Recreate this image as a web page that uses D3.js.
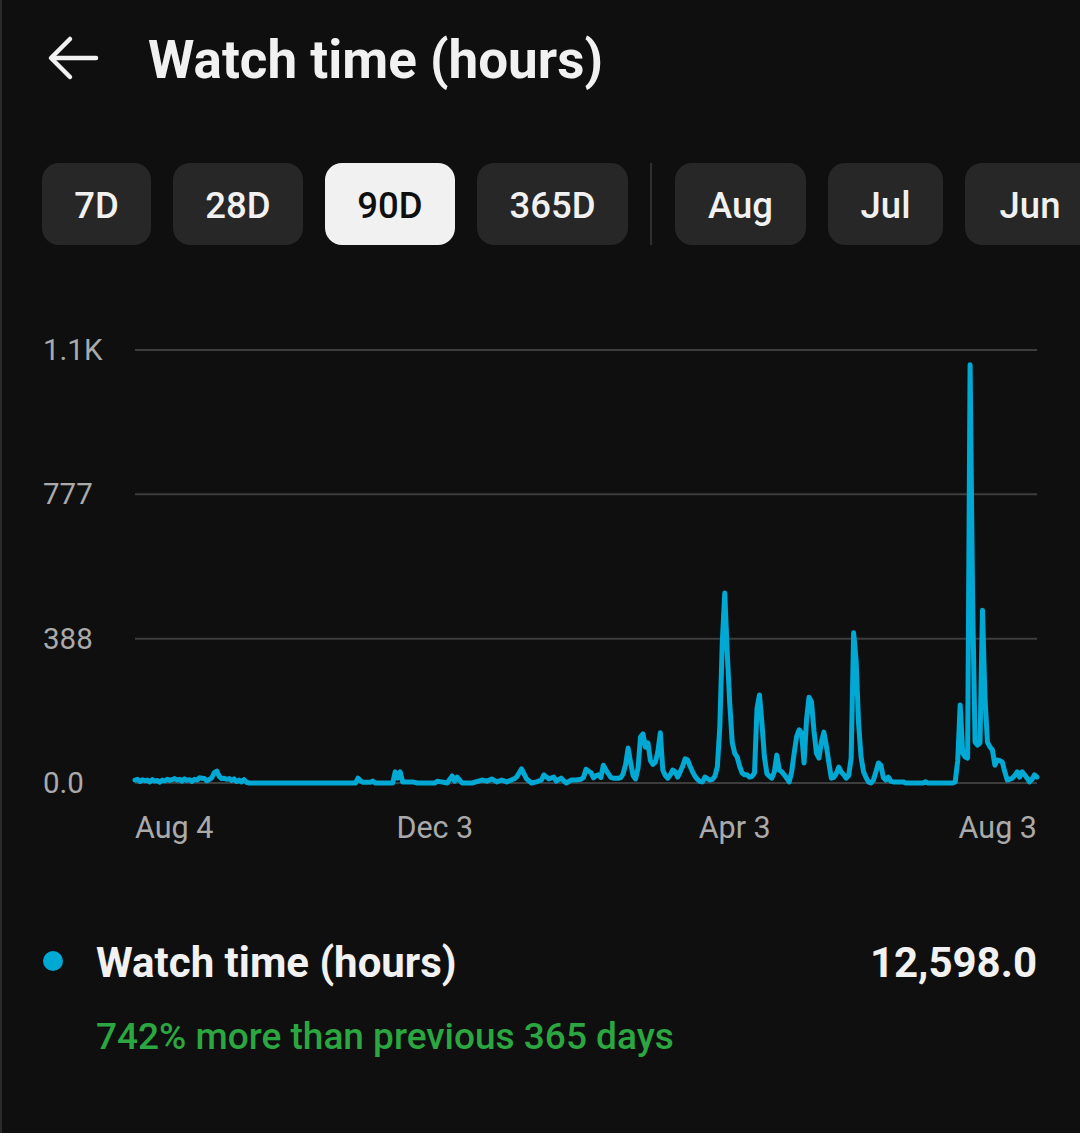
<!doctype html>
<html lang="en">
  <head>
    <meta charset="utf-8">
    <title>Watch time (hours)</title>
    <style>
      html, body{
        margin: 0;
        padding: 0;
        background: #0f0f0f;
        overflow: hidden;
      }
      svg text{
        font-family: Roboto, "Noto Sans", sans-serif;
      }
    </style>
  </head>
  <body>
    <svg id="chart" width="1080" height="1133"></svg>
    <script src="https://d3js.org/d3.v7.min.js"></script>
    <script>

      //period covered by the chart (365 days)
      var startDate = new Date(2022, 7, 4);
      var endDate = new Date(2023, 7, 3);

      //day offset from startDate, and watch hours on that day
      var dayOffsets = [
        0,1,2,3,4,5,6,7,8,9,10,11,12,13,14,15,16,17,18,19,20,21,22,23,24,25,26,27,28,29,
        30,31,32,33,34,35,36,37,38,39,40,41,42,43,44,45,46,
        89,90,91,92,95,96,97,99,104,105,106,107,108,112,114,121,122,126,128,129,130,132,
        136,140,142,144,146,148,150,153,154,156,158,160,162,164,165,167,169,170,172,174,176,178,180,
        181,182,183,184,185,186,187,188,189,190,191,192,193,194,195,196,197,198,199,200,
        201,202,203,204,205,206,207,208,209,210,211,212,213,214,215,216,217,218,219,220,
        221,222,223,224,225,226,227,228,229,230,231,232,233,234,235,236,237,238,239,240,
        241,242,243,244,245,246,247,248,249,250,251,252,253,254,255,256,257,258,259,260,
        261,262,263,264,265,266,267,268,269,270,271,272,273,274,275,276,277,278,279,280,
        281,282,283,284,285,286,287,288,289,290,291,292,293,294,295,296,297,298,299,300,
        301,302,303,304,305,306,310,311,318,319,320,330,331,332,333,334,335,336,337,338,339,340,
        341,342,343,344,345,346,347,348,349,350,351,352,353,354,355,356,357,358,359,360,
        361,362,363,364
      ];
      var watchHours = [
        8,10,4,9,6,8,3,9,5,7,2,8,6,10,7,9,12,8,10,5,11,7,9,4,10,8,14,13,12,6,
        10,14,28,32,18,12,13,10,12,7,11,4,8,3,9,2,0,
        0,13,6,2,2,5,0,0,0,30,13,30,3,3,0,0,5,0,19,5,16,0,
        0,8,5,11,3,8,3,11,16,38,11,0,3,8,22,11,16,5,13,0,8,8,10,
        15,37,32,28,14,20,22,15,48,35,25,15,13,13,13,14,25,50,94,55,
        20,11,40,124,132,96,108,60,50,56,85,135,35,20,13,22,35,30,16,30,
        45,65,62,45,30,18,10,4,3,16,12,8,10,18,43,150,380,511,350,215,
        110,80,70,45,27,22,22,16,18,27,200,237,161,70,25,18,13,30,75,35,
        30,22,13,3,30,80,125,143,135,54,170,231,218,140,80,67,110,137,100,55,
        13,15,25,43,30,22,13,20,67,404,330,160,70,30,15,3,0,8,30,54,
        48,15,8,16,5,3,3,0,0,3,0,0,3,60,210,81,70,67,1125,500,110,102,
        108,465,230,110,97,89,48,62,60,56,30,8,10,13,20,30,16,30,22,13,
        3,10,22,16
      ];

      //y axis ticks as shown in the app
      var yTicks = [0, 388.3, 776.7, 1165];
      var yTickLabels = ["0.0", "388", "777", "1.1K"];

      //x axis ticks
      var xTickDates = [new Date(2022, 7, 4), new Date(2022, 11, 3), new Date(2023, 3, 3), new Date(2023, 7, 3)];
      var xTickLabels = ["Aug 4", "Dec 3", "Apr 3", "Aug 3"];

      //period chips across the top
      var chipLabels = ["7D", "28D", "90D", "365D", "Aug", "Jul", "Jun"];
      var chipSelected = "90D";

      var lineColor = "#00a8d4";

      var svg = d3.select("#chart");

      //thin lighter edge on the left of the screen
      svg.append("rect")
        .attr("x", 0).attr("y", 0)
        .attr("width", 2).attr("height", 1133)
        .attr("fill", "#2a2a2a");

      //back arrow
      var arrow = svg.append("g")
        .attr("fill", "none")
        .attr("stroke", "#f1f1f1")
        .attr("stroke-width", 4.5)
        .attr("stroke-linecap", "round")
        .attr("stroke-linejoin", "round");
      arrow.append("path").attr("d", "M52,58 L96,58");
      arrow.append("path").attr("d", "M70,39 L51,58 L70,77");

      //title
      svg.append("text")
        .attr("x", 148)
        .attr("y", 78)
        .attr("fill", "#f1f1f1")
        .style("font-size", "53px")
        .style("font-weight", "700")
        .text("Watch time (hours)");

      //chips
      var chipX = [42, 173, 325, 477, 675, 828, 965];
      var chipW = [109, 130, 130, 151, 131, 115, 130];
      var chips = svg.selectAll("g.chip")
        .data(chipLabels)
        .enter()
        .append("g")
        .attr("class", "chip")
        .attr("transform", function(d, i){ return "translate(" + chipX[i] + ",163)"; });

      chips.append("rect")
        .attr("width", function(d, i){ return chipW[i]; })
        .attr("height", 82)
        .attr("rx", 17)
        .attr("fill", function(d){ return d === chipSelected ? "#f1f1f1" : "#272727"; });

      chips.append("text")
        .attr("x", function(d, i){ return chipW[i] / 2; })
        .attr("y", 55)
        .attr("text-anchor", "middle")
        .attr("fill", function(d){ return d === chipSelected ? "#0f0f0f" : "#f1f1f1"; })
        .style("font-size", "36.5px")
        .style("font-weight", "500")
        .text(function(d){ return d; });

      //divider between the period chips and month chips
      svg.append("rect")
        .attr("x", 650).attr("y", 163)
        .attr("width", 2).attr("height", 82)
        .attr("fill", "#303030");

      //chart area
      var plotLeft = 135, plotRight = 1037, plotTop = 350, plotBottom = 783;

      var x = d3.scaleTime()
        .domain([startDate, endDate])
        .range([plotLeft, plotRight]);

      var y = d3.scaleLinear()
        .domain([0, 1165])
        .range([plotBottom, plotTop]);

      //gridlines
      svg.selectAll("line.grid")
        .data(yTicks)
        .enter()
        .append("line")
        .attr("class", "grid")
        .attr("x1", plotLeft)
        .attr("x2", plotRight)
        .attr("y1", function(d){ return y(d); })
        .attr("y2", function(d){ return y(d); })
        .attr("stroke", "#3d3d3d")
        .attr("stroke-width", 2);

      //y labels
      svg.selectAll("text.ylab")
        .data(yTicks)
        .enter()
        .append("text")
        .attr("class", "ylab")
        .attr("x", 43)
        .attr("y", function(d){ return y(d) + 10; })
        .attr("fill", "#aaaaaa")
        .style("font-size", "29.5px")
        .text(function(d, i){ return yTickLabels[i]; });

      //x labels
      svg.selectAll("text.xlab")
        .data(xTickDates)
        .enter()
        .append("text")
        .attr("class", "xlab")
        .attr("x", function(d){ return x(d); })
        .attr("y", 838)
        .attr("text-anchor", function(d, i){
          if(i === 0) return "start";
          if(i === xTickDates.length - 1) return "end";
          return "middle";
        })
        .attr("fill", "#aaaaaa")
        .style("font-size", "30.5px")
        .text(function(d, i){ return xTickLabels[i]; });

      //series
      var points = dayOffsets.map(function(d, i){
        return {date: d3.timeDay.offset(startDate, d), value: watchHours[i]};
      });

      var line = d3.line()
        .x(function(d){ return x(d.date); })
        .y(function(d){ return y(d.value); });

      svg.append("path")
        .datum(points)
        .attr("d", line)
        .attr("fill", "none")
        .attr("stroke", lineColor)
        .attr("stroke-width", 5)
        .attr("stroke-linejoin", "round")
        .attr("stroke-linecap", "round");

      //legend / total
      svg.append("circle")
        .attr("cx", 53)
        .attr("cy", 961)
        .attr("r", 10)
        .attr("fill", lineColor);

      svg.append("text")
        .attr("x", 96)
        .attr("y", 977)
        .attr("fill", "#f1f1f1")
        .style("font-size", "42px")
        .style("font-weight", "700")
        .text("Watch time (hours)");

      svg.append("text")
        .attr("x", 1037)
        .attr("y", 977)
        .attr("text-anchor", "end")
        .attr("fill", "#f1f1f1")
        .style("font-size", "42px")
        .style("font-weight", "700")
        .text("12,598.0");

      svg.append("text")
        .attr("x", 96)
        .attr("y", 1049)
        .attr("fill", "#2ba640")
        .style("font-size", "37px")
        .style("font-weight", "500")
        .text("742% more than previous 365 days");

    </script>
  </body>
</html>
